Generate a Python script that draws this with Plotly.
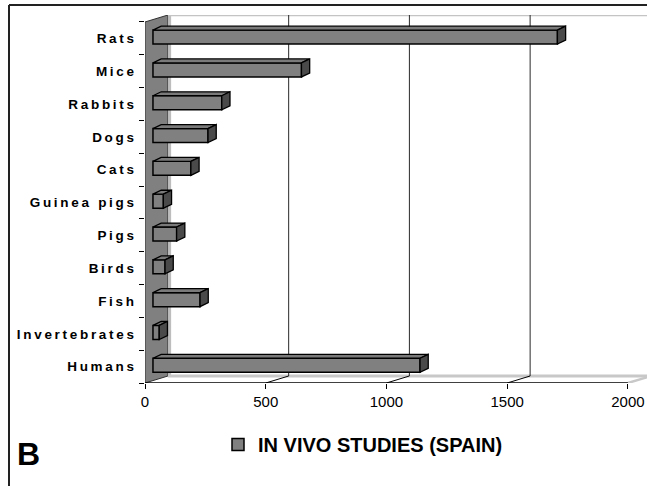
import plotly.graph_objects as go

# ---- data -------------------------------------------------------------
categories = ["Rats", "Mice", "Rabbits", "Dogs", "Cats", "Guinea pigs",
              "Pigs", "Birds", "Fish", "Invertebrates", "Humans"]
counts = [1675, 615, 285, 228, 157, 43, 98, 50, 195, 26, 1106]
axis_ticks = [0, 500, 1000, 1500, 2000]
series_name = "IN VIVO STUDIES (SPAIN)"
panel_label = "B"

# ---- geometry of the pseudo-3D box -----------------------------------
W, H = 647, 486
M_L, M_R, M_T, M_B = 145, 0, 15, 103
PW, PH = W - M_L - M_R, H - M_T - M_B
X_MAX = 2079          # right end of the plotting area (value units)
N = len(categories)
DX, DY = 95, 0.213    # depth of the box (value units / category units)
BAR_X0 = 33           # bars sit one third into the depth
BAR_DX, BAR_DY = 34, 0.12   # depth of each bar
BAR_C, BAR_H = 0.46, 0.427  # bar centre offset and height within a band

FONT = "Liberation Sans, Arial, sans-serif"
GREY = "#808080"


def spaced(s):
    return "\u2009".join(s)


def px_to_paper_x(px):
    return (px - M_L) / PW


def px_to_paper_y(py):
    return (H - M_B - py) / PH


shapes = []
# left wall
shapes.append(dict(type="path", xref="x", yref="y", layer="below",
                   path=f"M 0,0 L {DX},{-DY} L {DX},{N - DY} L 0,{N} Z",
                   fillcolor=GREY, line=dict(color="#303030", width=1)))
shapes.append(dict(type="line", xref="x", yref="y", layer="below",
                   x0=DX + 7, x1=DX + 7, y0=-DY, y1=N - DY,
                   line=dict(color="#bdbdbd", width=3)))
# back wall top edge and floor back edge
shapes.append(dict(type="line", xref="x", yref="y", layer="below",
                   x0=DX, x1=X_MAX + DX, y0=-DY, y1=-DY,
                   line=dict(color="#c4c4c4", width=2.5)))
shapes.append(dict(type="line", xref="x", yref="y", layer="below",
                   x0=DX, x1=X_MAX + DX, y0=N - DY, y1=N - DY,
                   line=dict(color="#c8c8c8", width=3)))
# back-wall gridlines and floor tick slants
for t in axis_ticks[1:]:
    if t + DX < X_MAX:
        shapes.append(dict(type="line", xref="x", yref="y", layer="below",
                           x0=t + DX, x1=t + DX, y0=-DY, y1=N - DY,
                           line=dict(color="#2a2a2a", width=1)))
    last = t == axis_ticks[-1]
    shapes.append(dict(type="line", xref="x", yref="y", layer="below",
                       x0=t, x1=t + DX, y0=N, y1=N - DY,
                       line=dict(color="#c8c8c8" if last else "#000000",
                                 width=2.5 if last else 1)))
# floor front edge
shapes.append(dict(type="line", xref="x", yref="y", layer="below",
                   x0=0, x1=axis_ticks[-1], y0=N, y1=N,
                   line=dict(color="#000000", width=1.5)))
# outer frame (top and left)
fx0 = px_to_paper_x(9)
fy_top = px_to_paper_y(5)
fy_bot = px_to_paper_y(H + 2)
shapes.append(dict(type="line", xref="paper", yref="paper",
                   x0=fx0, x1=px_to_paper_x(W + 2), y0=fy_top, y1=fy_top,
                   line=dict(color="#222222", width=2)))
shapes.append(dict(type="line", xref="paper", yref="paper",
                   x0=fx0, x1=fx0, y0=fy_top, y1=fy_bot,
                   line=dict(color="#222222", width=2)))

# ---- bar faces --------------------------------------------------------
top_x, top_y, side_x, side_y = [], [], [], []
for i, v in enumerate(counts):
    yt = i + BAR_C - BAR_H / 2
    yb = i + BAR_C + BAR_H / 2
    x0, x1 = BAR_X0, BAR_X0 + v
    top_x += [x0, x1, x1 + BAR_DX, x0 + BAR_DX, x0, None]
    top_y += [yt, yt, yt - BAR_DY, yt - BAR_DY, yt, None]
    side_x += [x1, x1 + BAR_DX, x1 + BAR_DX, x1, x1, None]
    side_y += [yt, yt - BAR_DY, yb - BAR_DY, yb, yt, None]

fig = go.Figure()
fig.add_trace(go.Bar(
    orientation="h", y=[i + BAR_C for i in range(N)], x=counts,
    base=BAR_X0, width=BAR_H, name=series_name,
    marker=dict(color=GREY, line=dict(color="#000000", width=1.5)),
    showlegend=True, hoverinfo="skip"))
fig.add_trace(go.Scatter(x=top_x, y=top_y, mode="lines", fill="toself",
                         fillcolor="#7a7a7a",
                         line=dict(color="#000000", width=1.3),
                         showlegend=False, hoverinfo="skip"))
fig.add_trace(go.Scatter(x=side_x, y=side_y, mode="lines", fill="toself",
                         fillcolor="#4a4a4a",
                         line=dict(color="#000000", width=1.3),
                         showlegend=False, hoverinfo="skip"))

fig.update_layout(
    width=W, height=H,
    margin=dict(l=M_L, r=M_R, t=M_T, b=M_B),
    paper_bgcolor="white", plot_bgcolor="white",
    shapes=shapes,
    showlegend=True,
    legend=dict(orientation="h", x=px_to_paper_x(218), xanchor="left",
                y=px_to_paper_y(425), yanchor="top",
                font=dict(family=FONT, size=20, color="#000000",
                          weight="bold"),
                bgcolor="rgba(0,0,0,0)"),
    xaxis=dict(range=[0, X_MAX], tickmode="array", tickvals=axis_ticks,
               ticktext=[str(t) for t in axis_ticks],
               ticks="outside", ticklen=5, tickcolor="#000000",
               showgrid=False, zeroline=False, showline=False,
               tickfont=dict(family=FONT, size=15, color="#000000")),
    yaxis=dict(range=[N, -DY], tickmode="array",
               tickvals=[i + 0.5 for i in range(N)],
               ticktext=[spaced(c) for c in categories],
               ticks="", ticklabelstandoff=10,
               minor=dict(tickmode="array", tickvals=list(range(N + 1)),
                          ticks="outside", ticklen=5, tickcolor="#000000",
                          showgrid=False),
               showgrid=False, zeroline=False, showline=False,
               tickfont=dict(family=FONT, size=13.5, color="#000000",
                             weight="bold")),
    annotations=[dict(text=f"<b>{panel_label}</b>", xref="paper", yref="paper",
                      x=px_to_paper_x(15), xanchor="left",
                      y=px_to_paper_y(454), yanchor="middle",
                      showarrow=False,
                      font=dict(family=FONT, size=32, color="#000000"))],
)

fig.write_html("out.html")
